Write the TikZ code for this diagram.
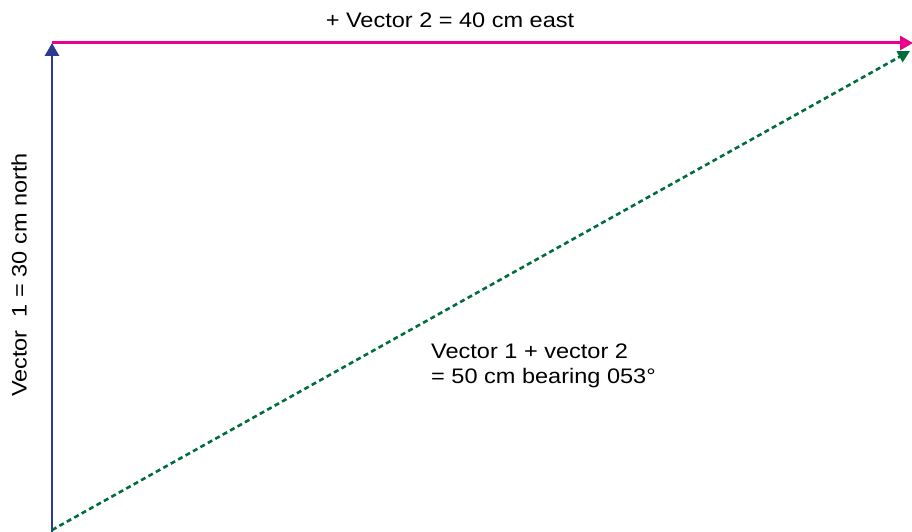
\documentclass[tikz,border=0pt]{standalone}
\usepackage{fontspec}
\setmainfont[FakeStretch=1.12]{Liberation Sans}
\usepackage{tikz}
\usetikzlibrary{positioning,arrows.meta}

\definecolor{vecblue}{RGB}{46,57,145}
\definecolor{vecpink}{RGB}{233,0,140}
\definecolor{vecgreen}{RGB}{0,110,60}

\begin{document}
\begin{tikzpicture}[
    x=1pt, y=1pt,
    label/.style={
      inner sep=0pt,
      font=\fontsize{21}{25}\selectfont
    },
    vecone/.style={-{Triangle[length=13pt,width=14pt]}, vecblue, line width=2.8pt},
    vectwo/.style={-{Triangle[length=13pt,width=14pt]}, vecpink, line width=3pt},
    vecsum/.style={-{Triangle[length=12pt,width=12pt]}, vecgreen, line width=2.6pt,
      dash pattern=on 5pt off 3.5pt}
  ]
    \useasboundingbox (0,0) rectangle (912,532);

    \coordinate (o) at (52,0);
    \coordinate (s) at (52,2);
    \coordinate (t) at (52,489);
    \coordinate (e) at (913,489);
    \coordinate (g) at (910,481);

    \draw[vecone] (o) -- (t);
    \draw[vectwo] (t) -- (e);
    \draw[vecsum] (s) -- (g);

    \node[label] (v2) at (450,512) {+ Vector 2 = 40 cm east};
    \node[label, rotate=90] (v1) at (19,257) {Vector~~1 = 30 cm north};
    \node[label, align=left, anchor=north west] (vs) at (431,188)
      {Vector 1 + vector 2\\= 50 cm bearing 053°};
  \end{tikzpicture}
\end{document}
